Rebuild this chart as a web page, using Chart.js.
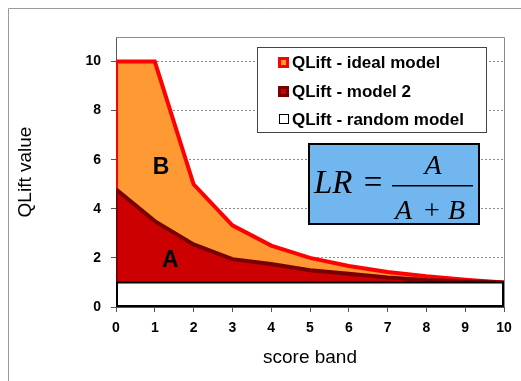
<!DOCTYPE html>
<html>
<head>
<meta charset="utf-8">
<script src="https://cdn.jsdelivr.net/npm/chart.js@4.4.1/dist/chart.umd.min.js"></script>
<style>
  html, body { margin: 0; padding: 0; background: #fff; }
  #wrap { width: 521px; height: 381px; }
  canvas { display: block; }
</style>
</head>
<body>
<div id="wrap"><canvas id="graficoLift" width="521" height="381"></canvas></div>
<script>
// Bandas de score (eje x)
const scoreBands = [0, 1, 2, 3, 4, 5, 6, 7, 8, 9, 10];
// QLift por banda
const idealLift = [10, 10, 5, 3.33, 2.5, 2, 1.67, 1.43, 1.25, 1.11, 1];
const model2Lift = [4.8, 3.5, 2.55, 1.95, 1.75, 1.5, 1.35, 1.2, 1.1, 1.04, 1];
const randomLift = [1, 1, 1, 1, 1, 1, 1, 1, 1, 1, 1];
const seriesNames = ['QLift - ideal model', 'QLift - model 2', 'QLift - random model'];
const yTicks = [0, 2, 4, 6, 8, 10];

const SANS = '"Liberation Sans", Arial, sans-serif';
const SERIF = '"Liberation Serif", "Times New Roman", serif';

// Contorno completo de cada área (lado izquierdo, base y lado derecho), como en Excel
const contornos = {
    id: 'contornos',
    afterDatasetDraw(chart, args) {
        const ds = chart.data.datasets[args.index];
        const pts = args.meta.data;
        const first = pts[0], last = pts[pts.length - 1];
        const y0 = chart.scales.y.getPixelForValue(0);
        const { ctx, chartArea: a } = chart;
        ctx.save();
        ctx.beginPath();
        ctx.rect(a.left, a.top, a.right - a.left, a.bottom - a.top);
        ctx.clip();
        ctx.strokeStyle = ds.borderColor;
        ctx.lineWidth = ds.borderWidth * (args.index === 2 ? 2 : 1);
        ctx.beginPath();
        ctx.moveTo(first.x, first.y);
        ctx.lineTo(first.x, y0);
        ctx.lineTo(last.x, y0);
        ctx.lineTo(last.x, last.y);
        ctx.stroke();
        ctx.restore();
    }
};

// Marco, leyenda, fórmula y letras A / B
const adornos = {
    id: 'adornos',
    beforeDraw(chart) {
        const ctx = chart.ctx;
        ctx.save();
        ctx.fillStyle = '#fff';
        ctx.fillRect(0, 0, chart.width, chart.height);
        ctx.strokeStyle = '#9a9a9a';
        ctx.lineWidth = 1;
        ctx.beginPath();
        ctx.moveTo(8.5, chart.height);
        ctx.lineTo(8.5, 8.5);
        ctx.lineTo(chart.width, 8.5);
        ctx.stroke();
        ctx.restore();
    },
    afterDraw(chart) {
        const { ctx, chartArea: a, scales: { x, y } } = chart;
        ctx.save();

        // borde superior y derecho del área de trazado
        ctx.strokeStyle = '#8c8c8c';
        ctx.lineWidth = 1;
        ctx.beginPath();
        ctx.moveTo(a.left, a.top + 0.5);
        ctx.lineTo(a.right + 0.5, a.top + 0.5);
        ctx.lineTo(a.right + 0.5, a.bottom);
        ctx.stroke();

        // letras A y B
        ctx.fillStyle = '#000';
        ctx.font = 'bold 23px ' + SANS;
        ctx.textAlign = 'center';
        ctx.textBaseline = 'alphabetic';
        ctx.fillText('B', x.getPixelForValue(1.16), y.getPixelForValue(5.4));
        ctx.fillText('A', x.getPixelForValue(1.4), y.getPixelForValue(1.63));

        // leyenda
        ctx.fillStyle = '#fff';
        ctx.fillRect(257, 47, 229, 85);
        ctx.strokeStyle = '#444';
        ctx.strokeRect(257.5, 47.5, 229, 85);
        const rows = [62, 91, 119];
        ctx.font = 'bold 17px ' + SANS;
        ctx.textAlign = 'left';
        ctx.textBaseline = 'middle';
        chart.data.datasets.forEach((ds, i) => {
            const cy = rows[i];
            if (i < 2) {
                ctx.fillStyle = ds.borderColor;
                ctx.fillRect(278, cy - 5, 11, 11);
                ctx.fillStyle = ds.backgroundColor;
                ctx.fillRect(281, cy - 2, 5, 5);
            } else {
                ctx.fillStyle = '#fff';
                ctx.fillRect(279, cy - 4, 9, 9);
                ctx.strokeStyle = '#000';
                ctx.strokeRect(279.5, cy - 4.5, 9, 9);
            }
            ctx.fillStyle = '#000';
            ctx.fillText(ds.label, 292, cy + 1);
        });

        // fórmula LR = A / (A + B)
        ctx.fillStyle = '#72B6F0';
        ctx.fillRect(308, 143, 172, 82);
        ctx.strokeStyle = '#000';
        ctx.lineWidth = 2;
        ctx.strokeRect(309, 144, 170, 80);
        ctx.fillStyle = '#000';
        ctx.textBaseline = 'alphabetic';
        ctx.textAlign = 'left';
        ctx.font = 'italic 33px ' + SERIF;
        ctx.fillText('LR', 314, 193);
        ctx.font = '33px ' + SERIF;
        ctx.textAlign = 'center';
        ctx.fillText('=', 373, 193);
        ctx.fillRect(392, 185, 81, 1.5);
        ctx.font = 'italic 28px ' + SERIF;
        ctx.fillText('A', 433, 174);
        ctx.textAlign = 'left';
        ctx.fillText('A', 395, 219);
        ctx.fillText('B', 448, 219);
        ctx.font = '28px ' + SERIF;
        ctx.textAlign = 'center';
        ctx.fillText('+', 432, 219);

        ctx.restore();
    }
};

const dataLift = {
    labels: scoreBands,
    datasets: [{
        label: seriesNames[0],
        data: idealLift,
        fill: 'origin',
        backgroundColor: '#FF9933',
        borderColor: '#FF0000',
        borderWidth: 4,
        pointRadius: 0,
        order: 3
    }, {
        label: seriesNames[1],
        data: model2Lift,
        fill: 'origin',
        backgroundColor: '#CC0000',
        borderColor: '#780000',
        borderWidth: 4,
        pointRadius: 0,
        order: 2
    }, {
        label: seriesNames[2],
        data: randomLift,
        fill: 'origin',
        backgroundColor: '#FFFFFF',
        borderColor: '#000000',
        borderWidth: 2,
        pointRadius: 0,
        order: 1
    }]
};

const tickFont = { family: SANS, size: 14, weight: 'bold' };
const titleFont = { family: SANS, size: 19 };

const configLift = {
    type: 'line',
    data: dataLift,
    options: {
        responsive: false,
        animation: false,
        layout: { padding: { top: 37, right: 17, left: 0, bottom: 0 } },
        plugins: {
            legend: { display: false },
            tooltip: { enabled: false }
        },
        scales: {
            x: {
                type: 'linear',
                min: 0,
                max: 10,
                ticks: { stepSize: 1, color: '#000', font: tickFont, padding: 8, maxRotation: 0 },
                grid: { drawOnChartArea: false, tickLength: 5, color: '#555' },
                border: { color: '#555', width: 1 },
                title: { display: true, text: 'score band', color: '#000', font: titleFont, padding: { top: 0, bottom: 12 } },
                afterFit(s) { s.height = 74; }
            },
            y: {
                min: 0,
                max: 11,
                afterBuildTicks(s) { s.ticks = yTicks.map(v => ({ value: v })); },
                ticks: { color: '#000', font: tickFont, padding: 10 },
                grid: { color: '#8a8a8a', tickLength: 5, tickColor: '#555' },
                border: { dash: [2, 2], color: '#555', width: 1 },
                title: { display: true, text: 'QLift value', color: '#000', font: titleFont, padding: { top: 14, bottom: 0 } },
                afterFit(s) { s.width = 116; }
            }
        }
    },
    plugins: [contornos, adornos]
};

new Chart(document.getElementById('graficoLift'), configLift);
</script>
</body>
</html>
